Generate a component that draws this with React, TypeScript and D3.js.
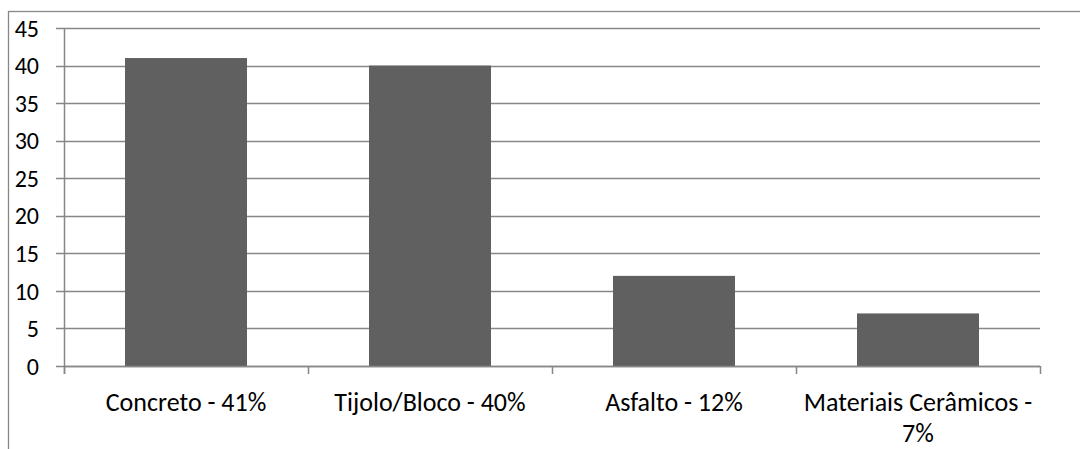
import React from 'react';
import * as d3 from 'd3';

// categories and values
const materials = ['Concreto', 'Tijolo/Bloco', 'Asfalto', 'Materiais Cerâmicos'];
const shares = [41, 40, 12, 7];
const yTicks = [0, 5, 10, 15, 20, 25, 30, 35, 40, 45];

const FONT = 'Carlito, Calibri, Lato, sans-serif';
const TICK_SIZE = 24;
const LABEL_SIZE = 26;
const GRID = '#878787';
const BAR = '#606060';

// break a label into lines that fit the band width
function wrapLabel(text: string, maxWidth: number): string[] {
  const ctx = document.createElement('canvas').getContext('2d');
  if (!ctx) return [text];
  ctx.font = `${LABEL_SIZE}px ${FONT}`;
  const words = text.split(' ');
  const lines: string[] = [];
  let line = '';
  words.forEach(w => {
    const test = line ? `${line} ${w}` : w;
    if (line && ctx.measureText(test).width > maxWidth) {
      lines.push(line);
      line = w;
    } else {
      line = test;
    }
  });
  if (line) lines.push(line);
  return lines;
}

export default function App() {
  const width = 1080, height = 449;
  const margin = { top: 28, right: 40, bottom: 83, left: 64 };

  const data = materials.map((m, i) => ({ label: `${m} - ${shares[i]}%`, value: shares[i] }));

  const xScale = d3.scaleBand()
    .domain(data.map(d => d.label))
    .range([margin.left, width - margin.right])
    .paddingInner(0.5)
    .paddingOuter(0.25);

  const yScale = d3.scaleLinear()
    .domain([0, 45])
    .range([height - margin.bottom, margin.top]);

  const y0 = yScale(0);
  const step = xScale.step();
  // category boundaries for the tick marks under the axis
  const boundaries = d3.range(data.length + 1).map(i => margin.left + i * step);

  return (
    <svg width={width} height={height} style={{ position: 'absolute', left: 0, top: 0, background: '#fff' }}
      fontFamily={FONT}>
      {/* outer chart border, cut off by the picture on the right and bottom */}
      <rect x={8.5} y={11.5} width={1200} height={600} fill="none" stroke={GRID} strokeWidth={1.3} />

      {/* horizontal gridlines + y ticks */}
      {yTicks.map(t => (
        <g key={t}>
          <line x1={margin.left - 8} x2={width - margin.right} y1={Math.round(yScale(t)) + 0.5} y2={Math.round(yScale(t)) + 0.5}
            stroke={GRID} strokeWidth={1.5} />
          <text x={39} y={yScale(t)} dy="0.36em" textAnchor="end" fontSize={TICK_SIZE} fill="#000">{t}</text>
        </g>
      ))}

      {/* y axis line */}
      <line x1={margin.left + 0.5} x2={margin.left + 0.5} y1={yScale(45)} y2={y0 + 8} stroke={GRID} strokeWidth={1.5} />

      {/* bars */}
      {data.map(d => (
        <rect key={d.label} x={xScale(d.label)} y={yScale(d.value)} width={xScale.bandwidth()}
          height={y0 - yScale(d.value)} fill={BAR} />
      ))}

      {/* x axis line redrawn on top of bars */}
      <line x1={margin.left} x2={width - margin.right} y1={Math.round(y0) + 0.5} y2={Math.round(y0) + 0.5} stroke={GRID} strokeWidth={1.5} />
      {boundaries.map((b, i) => (
        <line key={i} x1={b + 0.5} x2={b + 0.5} y1={y0} y2={y0 + 8} stroke={GRID} strokeWidth={1.5} />
      ))}

      {/* category labels, wrapped when wider than a band */}
      {data.map(d => {
        const cx = (xScale(d.label) ?? 0) + xScale.bandwidth() / 2;
        const lines = wrapLabel(d.label, step - 8);
        return (
          <text key={`${d.label}-label`} x={cx} y={411} textAnchor="middle" fontSize={LABEL_SIZE} fill="#000">
            {lines.map((l, i) => <tspan key={i} x={cx} dy={i === 0 ? 0 : 31}>{l}</tspan>)}
          </text>
        );
      })}
    </svg>
  );
}
